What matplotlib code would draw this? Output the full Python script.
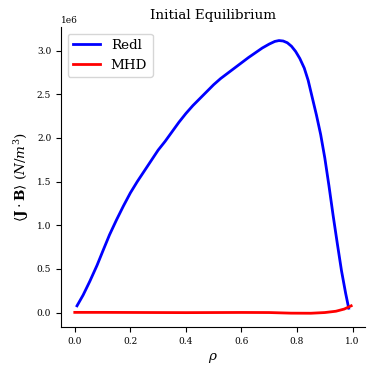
import matplotlib
matplotlib.use('Agg')
from matplotlib import pyplot as plt

plt.rcParams['font.family'] = 'DejaVu Serif'
plt.rcParams['mathtext.fontset'] = 'dejavuserif'

# Redl bootstrap <J.B> profile
rho_redl = [0.008, 0.03, 0.054, 0.08, 0.103, 0.125, 0.15, 0.175, 0.20, 0.225,
            0.25, 0.275, 0.30, 0.325, 0.35, 0.375, 0.40, 0.425, 0.45, 0.475,
            0.50, 0.525, 0.55, 0.575, 0.60, 0.625, 0.65, 0.675, 0.70, 0.72,
            0.735, 0.75, 0.765, 0.78, 0.795, 0.81, 0.826, 0.84, 0.855, 0.87,
            0.885, 0.90, 0.915, 0.93, 0.945, 0.96, 0.975, 0.986]
jb_redl = [0.077e6, 0.20e6, 0.357e6, 0.54e6, 0.72e6, 0.89e6, 1.06e6, 1.22e6,
           1.37e6, 1.50e6, 1.62e6, 1.74e6, 1.86e6, 1.96e6, 2.07e6, 2.18e6,
           2.28e6, 2.37e6, 2.45e6, 2.53e6, 2.61e6, 2.68e6, 2.74e6, 2.80e6,
           2.86e6, 2.92e6, 2.975e6, 3.03e6, 3.075e6, 3.105e6, 3.115e6, 3.11e6,
           3.09e6, 3.05e6, 2.99e6, 2.91e6, 2.80e6, 2.66e6, 2.46e6, 2.26e6,
           2.04e6, 1.77e6, 1.45e6, 1.11e6, 0.79e6, 0.48e6, 0.22e6, 0.05e6]

# MHD <J.B> profile
rho_mhd = [0.0, 0.1, 0.2, 0.3, 0.4, 0.5, 0.6, 0.7, 0.778, 0.85, 0.9, 0.94,
           0.97, 0.995]
jb_mhd = [0.002e6, 0.002e6, 0.001e6, 0.0, -0.001e6, 0.0, 0.001e6, 0.0,
          -0.007e6, -0.008e6, 0.0, 0.015e6, 0.04e6, 0.077e6]


def main():
    fig, ax = plt.subplots(figsize=(3.74, 3.74), dpi=100)
    ax.plot(rho_redl, jb_redl, color='blue', lw=2, label='Redl')
    ax.plot(rho_mhd, jb_mhd, color='red', lw=2, label='MHD')
    ax.set_title('Initial Equilibrium', fontsize=9.7)
    ax.set_xlabel(r'$\rho$', fontsize=9.7)
    ax.set_ylabel(r'$\langle\mathbf{J}\cdot\mathbf{B}\rangle$ $(N/m^3)$',
                  fontsize=9.7)
    ax.tick_params(labelsize=6.5)
    ax.yaxis.get_offset_text().set_fontsize(6.5)
    ax.spines['top'].set_visible(False)
    ax.spines['right'].set_visible(False)
    ax.legend(loc='upper left', fontsize=9.7)
    fig.subplots_adjust(left=0.163, right=0.976, top=0.928, bottom=0.126)
    fig.savefig('out.png')


if __name__ == "__main__":
    main()
